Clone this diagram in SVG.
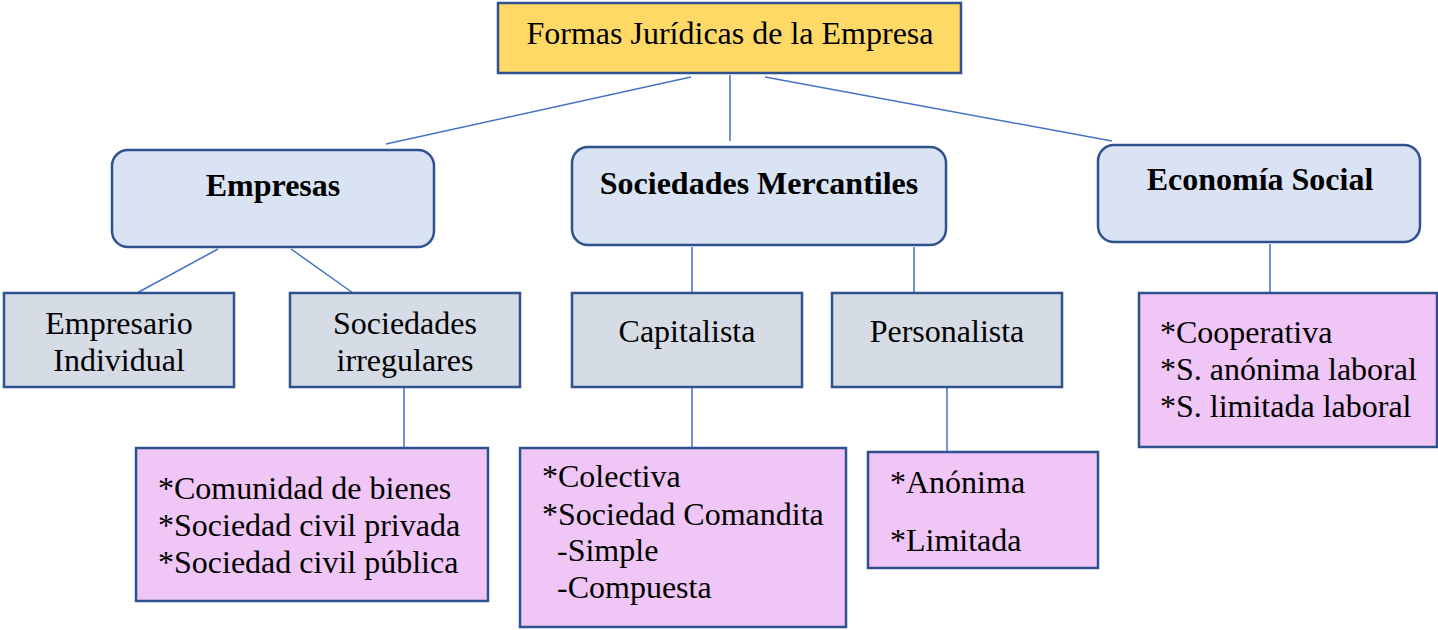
<svg xmlns="http://www.w3.org/2000/svg" width="1438" height="630" viewBox="0 0 1438 630">
<style>
text{font-family:"Liberation Serif","Times New Roman",serif;font-size:32px;fill:#000}
.b{font-weight:bold}
.m{text-anchor:middle}
.box{stroke:#2F528F;stroke-width:2.5}
.top{fill:#FFD966}
.cat{fill:#DAE3F3}
.sub{fill:#D6DCE5}
.leaf{fill:#EFC6F5}
.c line{stroke:#4472C4;stroke-width:1.5}
</style>
<rect width="1438" height="630" fill="#fff"/>
<g class="c" id="connectors">
<line x1="691" y1="77" x2="386" y2="144"/>
<line x1="730" y1="75" x2="730" y2="141"/>
<line x1="765" y1="77" x2="1112" y2="141"/>
<line x1="218" y1="249" x2="137" y2="293"/>
<line x1="291" y1="249" x2="353" y2="293"/>
<line x1="404" y1="388" x2="404" y2="447"/>
<line x1="692" y1="247" x2="692" y2="297"/>
<line x1="914" y1="247" x2="914" y2="293"/>
<line x1="692" y1="388" x2="692" y2="447"/>
<line x1="947" y1="388" x2="947" y2="451"/>
<line x1="1270" y1="244" x2="1270" y2="293"/>
</g>
<g id="root">
<rect class="box top" x="498" y="3" width="463" height="70"/>
<text class="m" x="730" y="44">Formas Jurídicas de la Empresa</text>
</g>
<g id="empresas">
<rect class="box cat" x="112" y="150" width="322" height="97" rx="16"/>
<text class="m b" x="273" y="196">Empresas</text>
</g>
<g id="mercantiles">
<rect class="box cat" x="572" y="147" width="374" height="98" rx="16"/>
<text class="m b" x="759" y="194">Sociedades Mercantiles</text>
</g>
<g id="economia">
<rect class="box cat" x="1098" y="145" width="322" height="97" rx="16"/>
<text class="m b" x="1260" y="190">Economía Social</text>
</g>
<g id="empresario">
<rect class="box sub" x="4" y="293" width="230" height="94"/>
<text class="m" x="119" y="334">Empresario</text>
<text class="m" x="119" y="371">Individual</text>
</g>
<g id="irregulares">
<rect class="box sub" x="290" y="293" width="230" height="94"/>
<text class="m" x="405" y="334">Sociedades</text>
<text class="m" x="405" y="371">irregulares</text>
</g>
<g id="capitalista">
<rect class="box sub" x="572" y="293" width="230" height="94"/>
<text class="m" x="687" y="342">Capitalista</text>
</g>
<g id="personalista">
<rect class="box sub" x="832" y="293" width="230" height="94"/>
<text class="m" x="947" y="342">Personalista</text>
</g>
<g id="comunidad">
<rect class="box leaf" x="136" y="448" width="352" height="153"/>
<text x="158" y="499">*Comunidad de bienes</text>
<text x="158" y="536">*Sociedad civil privada</text>
<text x="158" y="573">*Sociedad civil pública</text>
</g>
<g id="colectiva">
<rect class="box leaf" x="520" y="448" width="326" height="179"/>
<text x="542" y="487">*Colectiva</text>
<text x="542" y="525">*Sociedad Comandita</text>
<text x="557" y="561">-Simple</text>
<text x="557" y="598">-Compuesta</text>
</g>
<g id="anonima">
<rect class="box leaf" x="868" y="452" width="230" height="116"/>
<text x="890" y="493">*Anónima</text>
<text x="890" y="551">*Limitada</text>
</g>
<g id="cooperativa">
<rect class="box leaf" x="1139" y="293" width="298" height="154"/>
<text x="1160" y="343">*Cooperativa</text>
<text x="1160" y="380">*S. anónima laboral</text>
<text x="1160" y="417">*S. limitada laboral</text>
</g>
</svg>
